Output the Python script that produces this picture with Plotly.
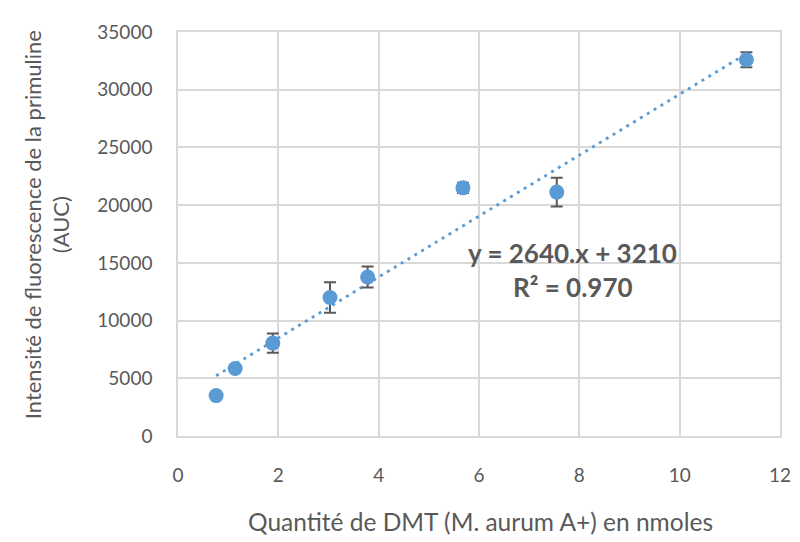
import plotly.graph_objects as go

x_vals = [0.76, 1.14, 1.89, 3.03, 3.78, 5.68, 7.55, 11.33]
y_vals = [3500, 5850, 8050, 12000, 13780, 21500, 21130, 32600]
y_err = [0, 0, 830, 1330, 910, 450, 1240, 650]

slope = 2640
intercept = 3210
eq_text = "y = 2640.x + 3210"
r2_text = "R² = 0.970"

x_ticks = [0, 2, 4, 6, 8, 10, 12]
y_ticks = [0, 5000, 10000, 15000, 20000, 25000, 30000, 35000]

x_title = "Quantité de DMT (M. aurum A+) en nmoles"
y_title = "Intensité de fluorescence de la primuline<br>(AUC)"

font_family = "Lato, 'Open Sans', sans-serif"
grey = "#595959"
blue = "#5B9BD5"
grid = "#d9d9d9"

# page body has an 8px default margin; compensate so the plot lands where intended
off = 8
L, R, T, B = 178, 780, 22, 436  # target plot box in screen pixels
PW, PH = R - L, B - T


def px(xs):
    return (xs - L) / PW


def py(ys):
    return (B - ys) / PH


x_fit = [min(x_vals), max(x_vals)]
y_fit = [slope * v + intercept for v in x_fit]

fig = go.Figure()
fig.add_trace(go.Scatter(
    x=x_fit, y=y_fit, mode="lines",
    line=dict(color=blue, width=2.8, dash="3px,5px"),
    hoverinfo="skip", showlegend=False,
))
fig.add_trace(go.Scatter(
    x=x_vals, y=y_vals, mode="markers",
    marker=dict(color=blue, size=15),
    error_y=dict(type="data", array=y_err, visible=True, color=grey, thickness=2, width=6),
    showlegend=False,
))

fig.add_annotation(x=px(572), y=py(248), xref="paper", yref="paper", text="<b>" + eq_text + "</b>",
                   xanchor="center", yanchor="middle", showarrow=False,
                   font=dict(family=font_family, size=26, color=grey))
fig.add_annotation(x=px(573), y=py(283), xref="paper", yref="paper",
                   text="<b>" + r2_text + "</b>", xanchor="center", yanchor="middle", showarrow=False,
                   font=dict(family=font_family, size=26, color=grey))
fig.add_annotation(x=px(47), y=py(220), xref="paper", yref="paper",
                   text=y_title, textangle=-90, xanchor="center", yanchor="middle", showarrow=False,
                   font=dict(family=font_family, size=22, color=grey))
fig.add_annotation(x=px(480), y=py(524), xref="paper", yref="paper",
                   text=x_title, xanchor="center", yanchor="middle", showarrow=False,
                   font=dict(family=font_family, size=24.5, color=grey))

fig.update_layout(
    width=800, height=542,
    margin=dict(l=L - off, r=800 - (R - off), t=T - off, b=542 - (B - off)),
    paper_bgcolor="white", plot_bgcolor="white",
    font=dict(family=font_family, color=grey, size=19),
)
fig.update_xaxes(
    range=[0, 12], tickvals=x_ticks, ticks="", showgrid=True, gridcolor=grid, gridwidth=1.5,
    showline=True, linecolor=grid, linewidth=1.5, mirror=True, zeroline=False,
    ticklabelstandoff=21, tickfont=dict(size=19, color=grey),
)
fig.update_yaxes(
    range=[0, 35000], tickvals=y_ticks, tickformat="d", ticks="", showgrid=True,
    gridcolor=grid, gridwidth=1.5, showline=True, linecolor=grid, linewidth=1.5,
    mirror=True, zeroline=False, ticklabelstandoff=20, tickfont=dict(size=19, color=grey),
)

fig.write_html("out.html")
